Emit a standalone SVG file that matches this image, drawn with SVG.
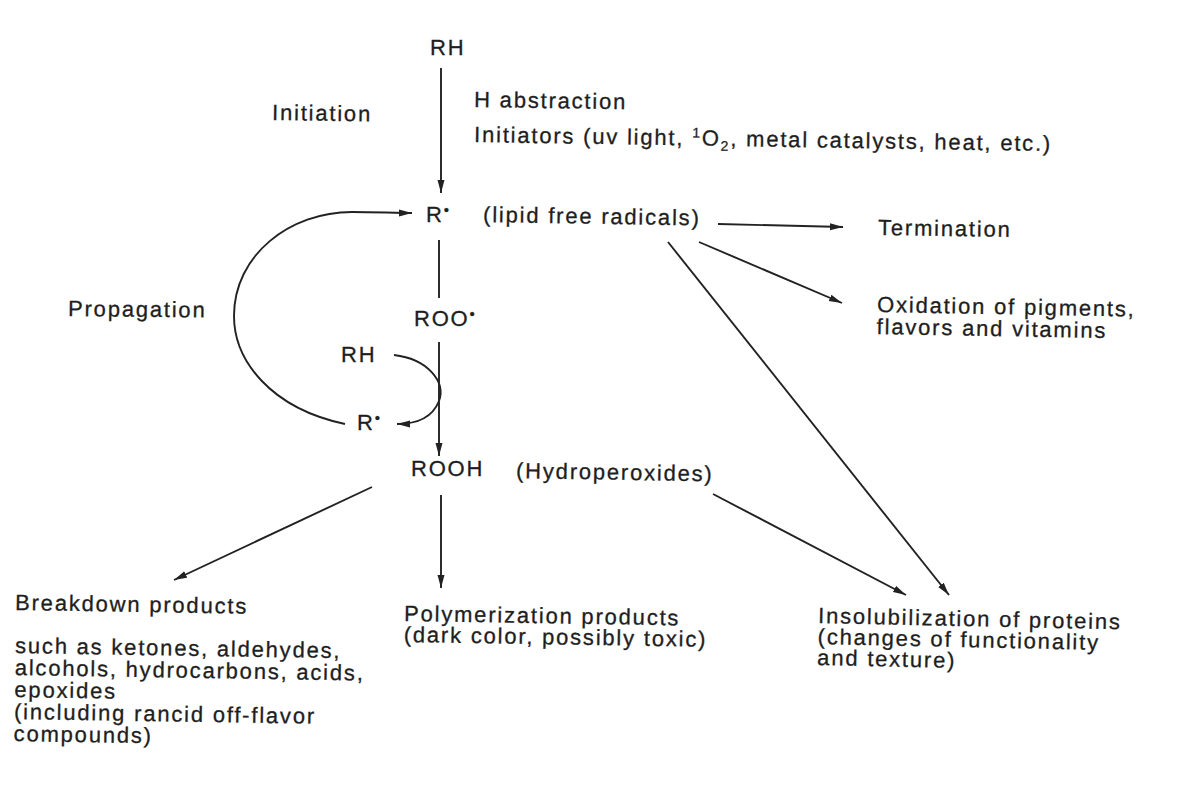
<svg xmlns="http://www.w3.org/2000/svg" width="1177" height="788" viewBox="0 0 1177 788">
<defs>
<style>
.t{font-family:"Liberation Sans",Arial,sans-serif;font-size:22px;letter-spacing:1.8px;fill:#1e1e1e;stroke:#1e1e1e;stroke-width:0.3}
.c{fill:none;stroke:#222;stroke-width:1.9}
</style>
<marker id="ah" markerUnits="userSpaceOnUse" markerWidth="14" markerHeight="8" refX="13" refY="4" orient="auto">
<path d="M0,0.5 L13,4 L0,7.5 z" fill="#222"/>
</marker>
</defs>
<rect width="1177" height="788" fill="#fff"/>
<g id="connectors">
<line class="c" x1="441" y1="68" x2="441" y2="193" marker-end="url(#ah)"/>
<line class="c" x1="439" y1="240" x2="439" y2="298"/>
<line class="c" x1="439" y1="342" x2="439" y2="456" marker-end="url(#ah)"/>
<path class="c" d="M394,355 C428,359 446,382 439,401 C433,416 419,424 397,424" marker-end="url(#ah)"/>
<path class="c" d="M345,424 C270,408 234,360 234,316 C234,255 290,212 352,212 C375,212 395,213 412,213" marker-end="url(#ah)"/>
<line class="c" x1="718" y1="224" x2="843" y2="227" marker-end="url(#ah)"/>
<line class="c" x1="699" y1="242" x2="842" y2="303" marker-end="url(#ah)"/>
<line class="c" x1="668" y1="242" x2="949" y2="595" marker-end="url(#ah)"/>
<line class="c" x1="372" y1="487" x2="174" y2="580" marker-end="url(#ah)"/>
<line class="c" x1="441" y1="495" x2="441" y2="588" marker-end="url(#ah)"/>
<line class="c" x1="713" y1="494" x2="906" y2="595" marker-end="url(#ah)"/>
</g>
<g id="rh-top"><text class="t" x="430" y="55">RH</text></g>
<g id="initiation"><text class="t" x="272" y="120" transform="rotate(0.8 272 120)">Initiation</text></g>
<g id="h-abstraction"><text class="t" x="474" y="107" transform="rotate(0.8 474 107)">H abstraction</text></g>
<g id="initiators"><text class="t" x="474" y="142" transform="rotate(0.9 474 142)">Initiators (uv light, <tspan font-size="14" dy="-8">1</tspan><tspan dy="8">O</tspan><tspan font-size="14" dy="5">2</tspan><tspan dy="-5">, metal catalysts, heat, etc.)</tspan></text></g>
<g id="r-radical"><text class="t" x="426" y="222">R<tspan font-size="15" dy="-7">•</tspan></text><text class="t" x="483" y="222" transform="rotate(0.9 483 222)">(lipid free radicals)</text></g>
<g id="termination"><text class="t" x="878" y="235" transform="rotate(0.8 878 235)">Termination</text></g>
<g id="oxidation"><text class="t" x="877" y="312" transform="rotate(1 877 312)"><tspan x="877">Oxidation of pigments,</tspan><tspan x="877" dy="22">flavors and vitamins</tspan></text></g>
<g id="propagation"><text class="t" x="68" y="316" transform="rotate(0.6 68 316)">Propagation</text></g>
<g id="roo"><text class="t" x="414" y="326">ROO<tspan font-size="15" dy="-7">•</tspan></text></g>
<g id="rh-small"><text class="t" x="341" y="362">RH</text></g>
<g id="r-small"><text class="t" x="357" y="430">R<tspan font-size="15" dy="-7">•</tspan></text></g>
<g id="rooh"><text class="t" x="411" y="476">ROOH</text><text class="t" x="516" y="478" transform="rotate(1 516 478)">(Hydroperoxides)</text></g>
<g id="breakdown"><text class="t" x="15" y="610" transform="rotate(0.9 15 610)">Breakdown products</text><text class="t" x="15" y="653" transform="rotate(0.9 15 653)"><tspan x="15">such as ketones, aldehydes,</tspan><tspan x="15" dy="22">alcohols, hydrocarbons, acids,</tspan><tspan x="15" dy="22">epoxides</tspan><tspan x="15" dy="22">(including rancid off-flavor</tspan><tspan x="15" dy="22">compounds)</tspan></text></g>
<g id="polymerization"><text class="t" x="404" y="621" transform="rotate(0.9 404 621)"><tspan x="404">Polymerization products</tspan><tspan x="404" dy="21">(dark color, possibly toxic)</tspan></text></g>
<g id="insolubilization"><text class="t" x="818" y="623" transform="rotate(1.2 818 623)"><tspan x="818">Insolubilization of proteins</tspan><tspan x="818" dy="21">(changes of functionality</tspan><tspan x="818" dy="21">and texture)</tspan></text></g>
</svg>
